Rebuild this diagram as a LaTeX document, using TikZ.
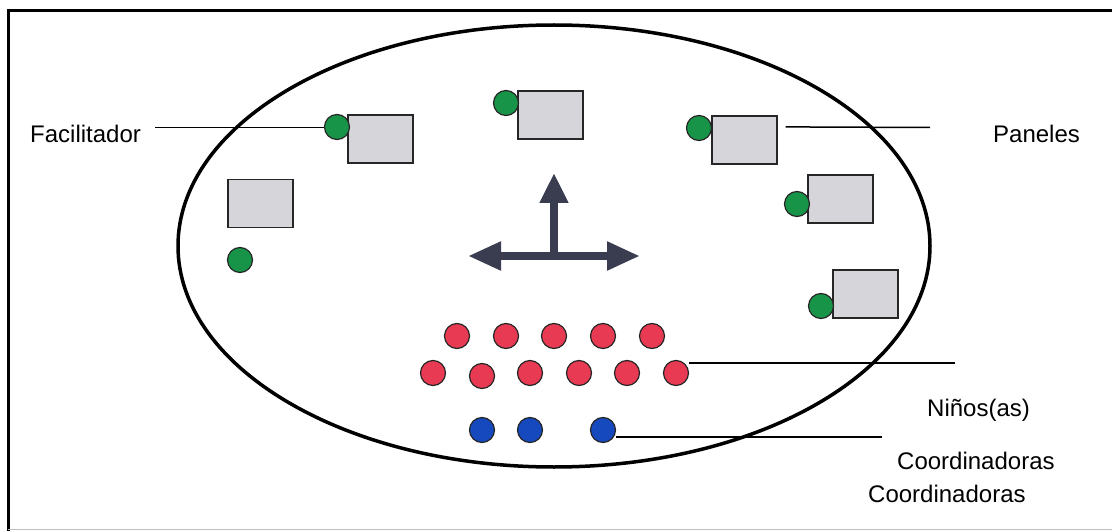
\documentclass[tikz,border=0pt]{standalone}
\usepackage{fontspec}
\setmainfont{Liberation Sans}
\usetikzlibrary{arrows.meta,calc}
\definecolor{gdot}{RGB}{24,148,72}
\definecolor{rdot}{RGB}{232,58,82}
\definecolor{bdot}{RGB}{22,72,190}
\definecolor{panelgray}{RGB}{214,214,218}
\definecolor{arrowc}{RGB}{58,61,80}
\begin{document}
\begin{tikzpicture}[x=1pt,y=-1pt,
  panel/.style={draw=black!85,fill=panelgray,line width=1.2pt,minimum width=65pt,minimum height=48pt,inner sep=0pt},
  dot/.style={circle,draw=black!85,line width=1.2pt,minimum size=25pt,inner sep=0pt},
  gd/.style={dot,fill=gdot},
  rd/.style={dot,fill=rdot},
  bd/.style={dot,fill=bdot},
  lab/.style={anchor=base west,inner sep=0pt,font=\fontsize{24}{28}\selectfont},
  conn/.style={draw=black,line width=1.5pt},
  bigarrow/.style={draw=arrowc,line width=8pt,-{Triangle[length=30pt,width=27pt]},color=arrowc}]
\useasboundingbox (0,0) rectangle (1112,532);
\fill[white] (0,0) rectangle (1112,532);
% frame
\draw[line width=3pt,line cap=rect] (1116,11) -- (8,11) -- (8,529);
\draw[line width=1pt,black!25] (8,529) -- (1112,529);
% ellipse
\draw[line width=3.5pt] (554,246) ellipse [x radius=376, y radius=221];
% panels
\node[panel] (p1) at (380.5,139) {};
\node[panel] (p2) at (260.5,203.5) {};
\node[panel] (p3) at (550.5,115) {};
\node[panel] (p4) at (744.5,140) {};
\node[panel] (p5) at (840.5,199) {};
\node[panel] (p6) at (865.5,294) {};
% facilitators
\node[gd] (g1) at (337,127) {};
\node[gd] (g2) at (240,260) {};
\node[gd] (g3) at (506,103) {};
\node[gd] (g4) at (699,128) {};
\node[gd] (g5) at (797,204) {};
\node[gd] (g6) at (821,306) {};
% children
\node[rd] (r1) at (457,336) {};
\node[rd] (r2) at (506,336) {};
\node[rd] (r3) at (554,336) {};
\node[rd] (r4) at (603,336) {};
\node[rd] (r5) at (652,336) {};
\node[rd] (s1) at (433,373) {};
\node[rd] (s2) at (482,376) {};
\node[rd] (s3) at (530,373) {};
\node[rd] (s4) at (579,373) {};
\node[rd] (s5) at (627,373) {};
\node[rd] (s6) at (676,373) {};
% coordinators
\node[bd] (b1) at (482,430) {};
\node[bd] (b2) at (530,430) {};
\node[bd] (b3) at (603,430) {};
% arrows
\coordinate (ac) at (554,259);
\coordinate (au) at (554,173);
\coordinate (al) at (468,256);
\coordinate (ar) at (640,256);
\draw[bigarrow] (ac) -- (au);
\draw[bigarrow,{Triangle[length=33pt,width=27pt]}-{Triangle[length=33pt,width=27pt]}] (al) -- (ar);
% labels
\node[lab] (fac) at (30,143) {Facilitador};
\node[lab] (pan) at (993,143) {Paneles};
\node[lab] (nin) at (927,416) {Niños(as)};
\node[lab] (co1) at (897,469) {Coordinadoras};
\node[lab] (co2) at (868,502) {Coordinadoras};
% connectors
\coordinate (fl) at (155,127.5);
\coordinate (pb) at (930,127.5);
\coordinate (nl) at (955,363);
\coordinate (cl) at (882,437);
\draw[conn] (fl) -- (g1.west |- fl);
\draw[conn] ($(p4.north east)+(8,11.5)$) -- (pb);
\draw[conn] (s6.east |- nl) -- (nl);
\draw[conn] (b3.east |- cl) -- (cl);
\end{tikzpicture}
\end{document}
